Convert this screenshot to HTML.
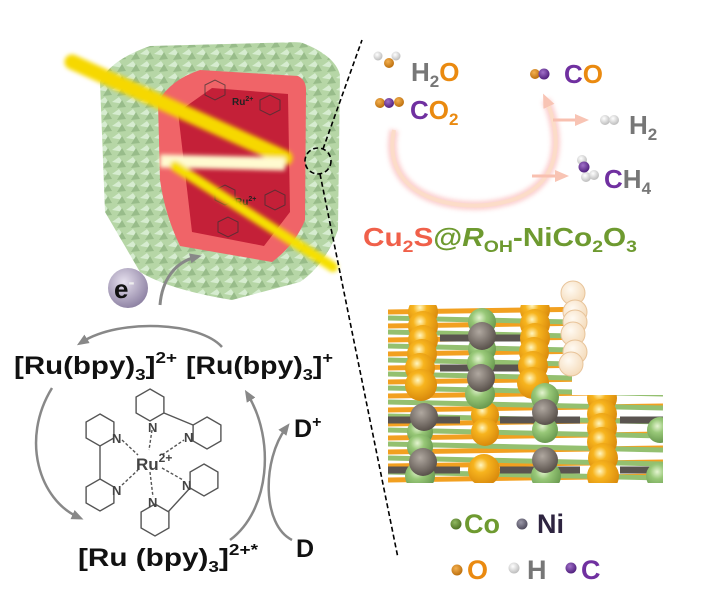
<!DOCTYPE html>
<html><head><meta charset="utf-8"><style>
html,body{margin:0;padding:0;background:#fff;width:719px;height:590px;overflow:hidden}
svg{display:block}
text{font-family:"Liberation Sans",Arial,sans-serif;font-weight:bold}
</style></head><body>
<svg width="719" height="590" viewBox="0 0 719 590" xmlns="http://www.w3.org/2000/svg">
<defs>
<radialGradient id="go" cx="0.4" cy="0.35" r="0.65"><stop offset="0" stop-color="#fff6c0"/><stop offset="0.35" stop-color="#f7b41e"/><stop offset="1" stop-color="#d98a0c"/></radialGradient>
<radialGradient id="gg" cx="0.4" cy="0.35" r="0.65"><stop offset="0" stop-color="#e4f4d0"/><stop offset="0.4" stop-color="#98c878"/><stop offset="1" stop-color="#6a9a50"/></radialGradient>
<radialGradient id="gn" cx="0.4" cy="0.35" r="0.65"><stop offset="0" stop-color="#b0a8a0"/><stop offset="1" stop-color="#5a524c"/></radialGradient>
<radialGradient id="gw" cx="0.4" cy="0.35" r="0.65"><stop offset="0" stop-color="#fffaf2"/><stop offset="1" stop-color="#f5dcbc"/></radialGradient>
<radialGradient id="ge" cx="0.4" cy="0.35" r="0.7"><stop offset="0" stop-color="#e6e0ee"/><stop offset="1" stop-color="#8a7ea0"/></radialGradient>
<radialGradient id="sO" cx="0.4" cy="0.35" r="0.7"><stop offset="0" stop-color="#f4b050"/><stop offset="1" stop-color="#b86a08"/></radialGradient>
<radialGradient id="sC" cx="0.4" cy="0.35" r="0.7"><stop offset="0" stop-color="#a070c8"/><stop offset="1" stop-color="#4a1a78"/></radialGradient>
<radialGradient id="sH" cx="0.4" cy="0.35" r="0.7"><stop offset="0" stop-color="#ffffff"/><stop offset="1" stop-color="#b8b8b8"/></radialGradient>
<radialGradient id="sG" cx="0.4" cy="0.35" r="0.7"><stop offset="0" stop-color="#90b860"/><stop offset="1" stop-color="#4a6e20"/></radialGradient>
<radialGradient id="sN" cx="0.4" cy="0.35" r="0.7"><stop offset="0" stop-color="#9a98a8"/><stop offset="1" stop-color="#4a4658"/></radialGradient>
<pattern id="leaf" width="14" height="12" patternUnits="userSpaceOnUse">
<rect width="14" height="12" fill="#b6d6a6"/><path d="M0 6 L7 1 L12 8 Z" fill="#d6ecd0"/><path d="M5 12 L10 4 L14 11 Z" fill="#98bc8a"/></pattern>
<filter id="blur"><feGaussianBlur stdDeviation="2"/></filter>
<marker id="ar" markerUnits="userSpaceOnUse" markerWidth="12" markerHeight="12" refX="6" refY="6" orient="auto"><path d="M0 1 L12 6 L0 11 Z" fill="#888"/></marker>
<marker id="arp" markerUnits="userSpaceOnUse" markerWidth="14" markerHeight="14" refX="7" refY="7" orient="auto"><path d="M0 1 L14 7 L0 13 Z" fill="#f8c4b4"/></marker>
<clipPath id="lat"><path d="M388 305 H572 V395 H663 V483 H388 Z"/></clipPath>
<path id="hx" d="M0,-16 L13.9,-8 L13.9,8 L0,16 L-13.9,8 L-13.9,-8Z"/>
</defs>

<!-- cube -->
<path d="M100,82 Q110,60 150,46 L300,42 Q335,55 340,75 L338,230 Q325,265 300,282 L232,300 Q170,290 140,272 L105,212 Z" fill="url(#leaf)"/>
<path d="M158,102 Q170,80 200,70 L298,76 Q306,80 306,90 L305,220 Q295,245 272,262 L180,246 Q165,215 160,180 Z" fill="#f06468"/>
<path d="M178,112 L212,88 L288,94 L290,212 L264,246 L192,232 Z" fill="#c42038"/>
<g fill="none" stroke="#333" stroke-width="1" opacity="0.7">
<polygon points="205,85 215,80 225,85 225,95 215,100 205,95"/>
<polygon points="260,100 270,95 280,100 280,110 270,115 260,110"/>
<polygon points="215,190 225,185 235,190 235,200 225,205 215,200"/>
<polygon points="265,195 275,190 285,195 285,205 275,210 265,205"/>
<polygon points="218,222 228,217 238,222 238,232 228,237 218,232"/>
</g>
<text x="232" y="105" font-size="10" fill="#222" font-weight="normal">Ru<tspan font-size="7" dy="-4">2+</tspan></text>
<text x="235" y="205" font-size="10" fill="#222" font-weight="normal">Ru<tspan font-size="7" dy="-4">2+</tspan></text>
<g filter="url(#blur)">
<line x1="72" y1="62" x2="285" y2="158" stroke="#f6d800" stroke-width="15" stroke-linecap="round"/>
<line x1="160" y1="161" x2="285" y2="164" stroke="#fffbd0" stroke-width="13"/>
<line x1="175" y1="166" x2="333" y2="267" stroke="#f6e000" stroke-width="10" stroke-linecap="round"/>
</g>

<!-- dashed -->
<circle cx="318" cy="161" r="13" fill="none" stroke="#000" stroke-width="1.6" stroke-dasharray="5,3"/>
<line x1="323" y1="149" x2="362" y2="40" stroke="#000" stroke-width="1.6" stroke-dasharray="5,3"/>
<line x1="320" y1="174" x2="398" y2="558" stroke="#000" stroke-width="1.6" stroke-dasharray="5,3"/>

<!-- electron -->
<path d="M160 305 C162 280 175 262 196 257" fill="none" stroke="#888" stroke-width="3" marker-end="url(#ar)"/>
<circle cx="128" cy="288" r="20" fill="url(#ge)"/>
<text x="114" y="298" font-size="26" fill="#111">e<tspan font-size="18" dy="-10" fill="#eee">-</tspan></text>

<!-- Ru cycle arrows -->
<g fill="none" stroke="#888" stroke-width="2.5">
<path d="M222 347 C200 322 120 318 82 342" marker-end="url(#ar)"/>
<path d="M52 388 C20 440 40 500 78 517" marker-end="url(#ar)"/>
<path d="M230 540 C270 510 275 440 248 395" marker-end="url(#ar)"/>
<path d="M292 540 C262 525 262 460 286 428" marker-end="url(#ar)"/>
</g>
<text x="14" y="374" font-size="25" fill="#111" textLength="163" lengthAdjust="spacingAndGlyphs">[Ru(bpy)<tspan font-size="16" dy="6">3</tspan><tspan dy="-6">]</tspan><tspan font-size="16" dy="-11">2+</tspan></text>
<text x="186" y="374" font-size="25" fill="#111" textLength="147" lengthAdjust="spacingAndGlyphs">[Ru(bpy)<tspan font-size="16" dy="6">3</tspan><tspan dy="-6">]</tspan><tspan font-size="16" dy="-11">+</tspan></text>
<text x="78" y="566" font-size="25" fill="#111" textLength="180" lengthAdjust="spacingAndGlyphs">[Ru (bpy)<tspan font-size="16" dy="6">3</tspan><tspan dy="-6">]</tspan><tspan font-size="16" dy="-11">2+*</tspan></text>
<text x="294" y="437" font-size="25" fill="#111">D<tspan font-size="16" dy="-10">+</tspan></text>
<text x="296" y="557" font-size="25" fill="#111">D</text>

<!-- bpy molecule -->
<g fill="none" stroke="#555" stroke-width="1.4">
<use href="#hx" x="150" y="405"/>
<use href="#hx" x="207" y="433"/>
<use href="#hx" x="100" y="430"/>
<use href="#hx" x="100" y="495"/>
<use href="#hx" x="204" y="480"/>
<use href="#hx" x="155" y="520"/>
<line x1="164" y1="413" x2="193" y2="425"/>
<line x1="100" y1="446" x2="100" y2="479"/>
<line x1="168" y1="512" x2="190" y2="488"/>
<g stroke-dasharray="3,2">
<line x1="152" y1="430" x2="149" y2="450"/>
<line x1="122" y1="440" x2="138" y2="455"/>
<line x1="122" y1="485" x2="138" y2="470"/>
<line x1="150" y1="472" x2="153" y2="497"/>
<line x1="162" y1="455" x2="184" y2="440"/>
<line x1="162" y1="468" x2="183" y2="480"/>
</g>
</g>
<g font-size="13" fill="#444" font-weight="normal">
<text x="148" y="432">N</text><text x="184" y="442">N</text><text x="112" y="443">N</text><text x="112" y="495">N</text><text x="182" y="490">N</text><text x="148" y="507">N</text>
<text x="136" y="470" font-size="17">Ru<tspan font-size="12" dy="-8">2+</tspan></text></g>

<!-- reaction top right -->
<path d="M394 130 C380 200 460 212 500 203 C565 190 562 135 546 100" fill="none" stroke="#f89898" stroke-width="9" opacity="0.45" filter="url(#blur)"/>
<path d="M394 130 C380 200 460 212 500 203 C565 190 562 135 546 100" fill="none" stroke="#fcdcc8" stroke-width="4" marker-end="url(#arp)"/>
<line x1="553" y1="120" x2="582" y2="120" stroke="#f8c0b0" stroke-width="3" marker-end="url(#arp)"/>
<line x1="532" y1="176" x2="562" y2="176" stroke="#f8c0b0" stroke-width="3" marker-end="url(#arp)"/>

<circle cx="378" cy="56" r="4.5" fill="url(#sH)"/><circle cx="396" cy="56" r="4.5" fill="url(#sH)"/><circle cx="389" cy="63" r="5" fill="url(#sO)"/>
<text x="411" y="81" font-size="26" fill="#777">H<tspan font-size="17" dy="6">2</tspan><tspan dy="-6" fill="#ea8a10">O</tspan></text>
<circle cx="380" cy="103" r="5" fill="url(#sO)"/><circle cx="389" cy="103" r="5" fill="url(#sC)"/><circle cx="399" cy="102" r="5" fill="url(#sO)"/>
<text x="410" y="119" font-size="26" fill="#7030a0">C<tspan fill="#ea8a10">O</tspan><tspan font-size="17" dy="6" fill="#ea8a10">2</tspan></text>
<circle cx="535" cy="74" r="5" fill="url(#sO)"/><circle cx="544" cy="74" r="5.5" fill="url(#sC)"/>
<text x="564" y="83" font-size="26" fill="#7030a0">C<tspan fill="#ea8a10">O</tspan></text>
<circle cx="605" cy="120" r="5" fill="url(#sH)"/><circle cx="614" cy="120" r="5" fill="url(#sH)"/>
<text x="629" y="134" font-size="26" fill="#777">H<tspan font-size="17" dy="6">2</tspan></text>
<circle cx="582" cy="160" r="5" fill="url(#sH)"/><circle cx="586" cy="177" r="5" fill="url(#sH)"/><circle cx="594" cy="175" r="5" fill="url(#sH)"/><circle cx="584" cy="167" r="5.5" fill="url(#sC)"/>
<text x="604" y="188" font-size="26" fill="#7030a0">C<tspan fill="#777">H</tspan><tspan font-size="17" dy="6" fill="#777">4</tspan></text>
<text x="363" y="246" font-size="26" fill="#f0604a" textLength="274" lengthAdjust="spacingAndGlyphs">Cu<tspan font-size="17" dy="6">2</tspan><tspan dy="-6">S</tspan><tspan fill="#6e9a30">@</tspan><tspan fill="#6e9a30" font-style="italic">R</tspan><tspan fill="#6e9a30" font-size="17" dy="6">OH</tspan><tspan fill="#6e9a30" dy="-6">-NiCo</tspan><tspan fill="#6e9a30" font-size="17" dy="6">2</tspan><tspan fill="#6e9a30" dy="-6">O</tspan><tspan fill="#6e9a30" font-size="17" dy="6">3</tspan></text>

<!-- lattice -->
<g clip-path="url(#lat)">
<rect x="388" y="300" width="280" height="190" fill="#fff"/>
<g stroke-width="5">
<g stroke="#f2a020"><path d="M388 312 L663 308 M388 326 L663 322 M388 340 L663 336 M388 354 L663 350 M388 368 L663 364 M388 382 L663 378 M388 396 L663 392 M388 410 L663 406 M388 424 L663 420 M388 438 L663 434 M388 452 L663 448 M388 466 L663 462 M388 480 L663 476"/></g>
<g stroke="#94c070"><path d="M388 318 L663 324 M388 332 L663 338 M388 346 L663 352 M388 360 L663 366 M388 374 L663 380 M388 388 L663 394 M388 402 L663 408 M388 416 L663 422 M388 430 L663 436 M388 444 L663 450 M388 458 L663 464 M388 472 L663 478"/></g>
<g stroke="#5a5450" stroke-width="7"><path d="M440 338 H530 M440 368 H530 M388 420 H460 M388 470 H460 M500 420 H580 M500 470 H580 M620 420 H663 M620 470 H663"/></g>
</g>
<g fill="url(#go)">
<circle cx="423" cy="312" r="15"/><circle cx="423" cy="326" r="15"/><circle cx="423" cy="340" r="15"/><circle cx="422" cy="354" r="15"/><circle cx="420" cy="368" r="15"/><circle cx="421" cy="385" r="16"/>
<circle cx="535" cy="310" r="15"/><circle cx="535" cy="324" r="15"/><circle cx="535" cy="338" r="15"/><circle cx="534" cy="352" r="15"/><circle cx="533" cy="366" r="15"/><circle cx="533" cy="383" r="16"/>
<circle cx="602" cy="398" r="15"/><circle cx="602" cy="414" r="15"/><circle cx="602" cy="428" r="15"/><circle cx="602" cy="442" r="15"/><circle cx="603" cy="458" r="15"/><circle cx="603" cy="476" r="16"/>
<circle cx="485" cy="415" r="14"/><circle cx="485" cy="432" r="14"/><circle cx="484" cy="470" r="16"/>
</g>
<g fill="url(#gg)">
<circle cx="482" cy="322" r="14"/><circle cx="482" cy="349" r="14"/><circle cx="481" cy="363" r="14"/><circle cx="480" cy="394" r="15"/>
<circle cx="420" cy="432" r="13"/><circle cx="420" cy="447" r="13"/><circle cx="420" cy="476" r="15"/>
<circle cx="545" cy="397" r="14"/><circle cx="545" cy="430" r="13"/><circle cx="546" cy="476" r="15"/>
<circle cx="660" cy="430" r="13"/><circle cx="660" cy="476" r="14"/>
</g>
<g fill="url(#gn)">
<circle cx="482" cy="336" r="14"/><circle cx="481" cy="378" r="14"/><circle cx="424" cy="417" r="14"/><circle cx="423" cy="462" r="14"/><circle cx="545" cy="412" r="13"/><circle cx="545" cy="460" r="13"/>
</g>
</g>
<g fill="url(#gw)" stroke="#e8c49a" stroke-width="1">
<circle cx="573" cy="293" r="12"/><circle cx="575" cy="312" r="12"/><circle cx="575" cy="322" r="12"/><circle cx="573" cy="334" r="12"/><circle cx="575" cy="352" r="12"/><circle cx="571" cy="364" r="12"/>
</g>

<!-- legend -->
<circle cx="456" cy="524" r="5.5" fill="url(#sG)"/>
<text x="464" y="533" font-size="27" fill="#6e9a30">Co</text>
<circle cx="522" cy="524" r="5.5" fill="url(#sN)"/>
<text x="537" y="533" font-size="27" fill="#2e2440">Ni</text>
<circle cx="457" cy="570" r="5.5" fill="url(#sO)"/>
<text x="467" y="579" font-size="27" fill="#ea8a10">O</text>
<circle cx="514" cy="568" r="5.5" fill="url(#sH)"/>
<text x="527" y="579" font-size="27" fill="#777">H</text>
<circle cx="571" cy="568" r="5.5" fill="url(#sC)"/>
<text x="581" y="579" font-size="27" fill="#7030a0">C</text>
</svg>
</body></html>
